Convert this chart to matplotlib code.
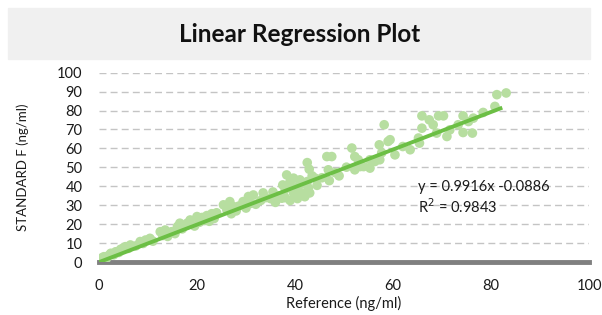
import matplotlib.pyplot as plt
from matplotlib.patches import Rectangle
import numpy as np

plt.rcParams['font.family'] = ['Lato', 'DejaVu Sans']

# reference vs standard F readings (ng/ml)
ref = [0.0, 0.3, 0.6, 1.0, 1.5, 2.0, 2.4, 3.0, 3.4, 4.0, 4.4, 5.0, 5.4, 6.0, 6.4, 7.5,
       8.4, 9.0, 9.5, 10.4, 11.0, 12.5, 13.5, 13.0, 14.0, 14.8, 15.5, 16.0, 16.5, 17.0,
       18.0, 18.6, 19.5, 20.0,
       20.5, 21.0, 21.5, 22.0, 22.5, 23.0, 23.5, 24.0, 25.4, 26.1, 26.7, 27.4, 27.0, 28.0,
       28.5, 29.4, 30.0, 30.5, 31.5, 31.0, 32.0, 33.0, 33.5, 34.0, 35.0, 35.5, 36.0, 36.5,
       37.3, 37.6,
       38.3, 39.7, 41.0, 37.5, 38.9, 40.6, 39.7, 41.4, 42.7, 42.5, 44.1, 38.0, 39.0, 40.0,
       41.5, 42.0, 43.0, 40.5, 39.0, 38.0, 42.5, 42.9, 44.5, 43.5,
       46.5, 47.5, 46.8, 48.2, 45.5, 47.0, 49.0, 50.5, 51.6, 52.2, 52.9, 52.2, 53.3, 54.0,
       55.3, 55.3, 56.3, 57.3, 57.2, 59.0, 58.2, 57.7, 60.4, 59.4,
       63.5, 65.4, 65.2, 65.9, 65.9, 67.4, 68.2, 68.9, 69.3, 70.3, 71.0, 71.6, 73.3, 74.3,
       75.4, 76.4, 74.3, 76.2, 78.4, 80.8, 81.2, 83.1, 62.0]
std_f = [0.5, 1.5, 2.2, 2.8, 1.8, 3.5, 4.6, 3.8, 5.4, 5.0, 6.7, 7.5, 8.1, 7.2, 9.0, 8.5,
         10.8, 9.8, 11.6, 12.5, 11.0, 16.0, 16.9, 14.0, 13.5, 16.0, 15.0, 18.7, 20.5, 17.5,
         20.5, 22.2, 19.0, 24.0,
         21.0, 23.5, 22.0, 24.5, 21.5, 25.5, 23.0, 26.0, 30.2, 27.5, 31.9, 29.3, 25.5, 27.0,
         29.5, 31.9, 28.5, 34.6, 35.4, 31.0, 30.5, 32.5, 36.5, 34.0, 33.5, 37.0, 31.5, 35.0,
         33.7, 35.4,
         46.0, 44.3, 43.4, 40.7, 40.7, 40.0, 36.5, 36.5, 39.2, 42.5, 44.3, 38.5, 42.5, 38.0,
         41.5, 34.5, 36.5, 33.5, 32.5, 34.0, 52.5, 49.0, 40.5, 45.5,
         55.7, 55.7, 48.7, 47.2, 44.5, 43.0, 45.5, 50.1, 60.2, 55.7, 54.0, 48.7, 50.4, 50.4,
         49.6, 54.0, 53.1, 54.0, 61.9, 63.7, 72.5, 57.7, 56.6, 64.6,
         59.3, 62.8, 65.5, 70.7, 77.2, 75.1, 72.5, 68.1, 77.2, 77.2, 66.3, 69.8, 72.5, 77.2,
         74.2, 76.0, 68.4, 68.1, 79.0, 82.2, 88.4, 89.3, 61.0]

slope = 0.9916
intercept = -0.0886
r2 = 0.9843

fig = plt.figure(figsize=(6.02, 3.15), dpi=100)
fig.patches.append(Rectangle((8 / 602, 1 - 59 / 315), 582 / 602, 51 / 315,
                             transform=fig.transFigure, color='#f0f0f0', zorder=0))
fig.text(0.498, 1 - 34 / 315, 'Linear Regression Plot', ha='center', va='center',
         fontsize=17.5, fontweight='bold', color='#111111')

ax = fig.add_axes([99 / 602, 1 - 262 / 315, 490 / 602, 189.3 / 315])
ax.scatter(ref, std_f, s=48, color='#b7dea0', edgecolors='none', zorder=2)

fx = np.array([0, 82.3])
ax.plot(fx, slope * fx + intercept, color='#6cbf45', lw=2.8, zorder=3, solid_capstyle='butt')

ax.set_xlim(0, 100)
ax.set_ylim(0, 100)
ax.set_xticks(range(0, 101, 20))
ax.set_yticks(range(0, 101, 10))
ax.tick_params(length=0, labelsize=10.5, colors='#1a1a1a')
ax.tick_params(axis='x', pad=12)
ax.tick_params(axis='y', pad=12)
ax.yaxis.grid(True, color='#c4c4c4', linestyle=(0, (5, 3)), lw=1)
ax.set_axisbelow(True)
for s in ['top', 'right', 'left']:
    ax.spines[s].set_visible(False)
ax.spines['bottom'].set_color('#808080')
ax.spines['bottom'].set_linewidth(3.5)
ax.spines['bottom'].set_zorder(1)

ax.set_xlabel('Reference (ng/ml)', fontsize=10.5, color='#1a1a1a', labelpad=2)
ax.set_ylabel('STANDARD F (ng/ml)', fontsize=9.5, color='#1a1a1a', labelpad=20)

ax.text(65.1, 39.7, 'y = %.4fx -%.4f' % (slope, -intercept), fontsize=10.5,
        va='center', color='#1a1a1a')
ax.text(65.1, 29.2, 'R$^2$ = %.4f' % r2, fontsize=10.5, va='center', color='#1a1a1a')

fig.savefig('out.png', dpi=100)
